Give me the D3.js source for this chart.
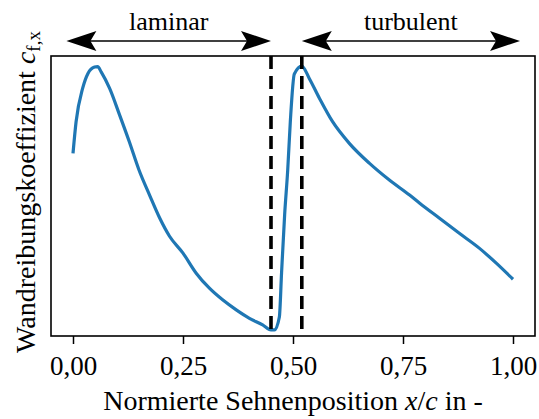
<!DOCTYPE html>
<html>
<head>
<meta charset="utf-8">
<script src="https://cdn.jsdelivr.net/npm/d3@7"></script>
</head>
<body style="margin:0">
<div id="chart"></div>
<script>
// chord position x/c (normalised) and wall friction coefficient (normalised, no ticks on y)
const xPos = [0.0, 0.007, 0.022, 0.034, 0.049, 0.056, 0.064, 0.083, 0.106, 0.128, 0.150, 0.174, 0.197, 0.219,
  0.250, 0.280, 0.310, 0.340, 0.371, 0.401, 0.431, 0.450, 0.458, 0.469, 0.474, 0.481, 0.488, 0.494, 0.503,
  0.520, 0.537, 0.560, 0.590, 0.628, 0.674, 0.719, 0.765, 0.788, 0.833, 0.878, 0.924, 0.962, 1.0]
const cf = [0.669, 0.789, 0.916, 0.972, 0.996, 0.998, 0.978, 0.916, 0.814, 0.713, 0.606, 0.511, 0.424, 0.356,
  0.291, 0.215, 0.158, 0.114, 0.076, 0.044, 0.019, 0.0, 0.0, 0.049, 0.216, 0.436, 0.606, 0.792, 0.970,
  1.0, 0.953, 0.878, 0.789, 0.707, 0.631, 0.568, 0.511, 0.480, 0.423, 0.366, 0.309, 0.253, 0.192]

const xTicks = [0, 0.25, 0.5, 0.75, 1.0]
const transitions = [0.45, 0.52]   // dashed lines: end of laminar, start of turbulent
const regionNames = ["laminar", "turbulent"]
const regionFrom = [-0.015, 0.52]
const regionTo = [0.45, 1.016]

const width = 539, height = 419
const box = { left: 51, right: 535, top: 56, bottom: 336 }
const fam = "Liberation Serif"

const svg = d3.select("#chart").append("svg")
  .attr("width", width).attr("height", height)
  .attr("font-family", fam)

const x = d3.scaleLinear().domain([-0.05, 1.05]).range([box.left, box.right])
const y = d3.scaleLinear().domain([-0.023, 1.038]).range([box.bottom, box.top])

// curve
const line = d3.line()
  .x((d, i) => x(xPos[i])).y(d => y(d))
  .curve(d3.curveMonotoneX)
svg.append("path")
  .datum(cf)
  .attr("d", line)
  .attr("fill", "none")
  .attr("stroke", "#1f77b4")
  .attr("stroke-width", 3.2)
  .attr("stroke-linejoin", "round")

// transition markers
svg.selectAll(".trans")
  .data(transitions)
  .enter().append("line")
  .attr("class", "trans")
  .attr("x1", d => x(d)).attr("x2", d => x(d))
  .attr("y1", box.top).attr("y2", box.bottom)
  .attr("stroke", "#000")
  .attr("stroke-width", 3.6)
  .attr("stroke-dasharray", "13,7")

// frame
svg.append("rect")
  .attr("x", box.left).attr("y", box.top)
  .attr("width", box.right - box.left).attr("height", box.bottom - box.top)
  .attr("fill", "none").attr("stroke", "#000").attr("stroke-width", 1.6)

// x axis: ticks only at the bottom, comma as decimal separator
const xAxis = d3.axisBottom(x)
  .tickValues(xTicks)
  .tickSize(8)
  .tickPadding(12)
  .tickFormat(d => d3.format(".2f")(d).replace(".", ","))
const gx = svg.append("g")
  .attr("transform", `translate(0,${box.bottom})`)
  .call(xAxis)
  .attr("font-family", fam)
  .attr("font-size", 27)
gx.select(".domain").remove()
gx.selectAll(".tick line").attr("stroke", "#000").attr("stroke-width", 1.5)
gx.selectAll(".tick text")
  .attr("fill", "#000")
  .style("font-family", `"${fam}"`)

// axis labels
const xl = svg.append("text")
  .attr("x", (box.left + box.right) / 2).attr("y", 410)
  .attr("text-anchor", "middle")
  .attr("font-size", 28)
  .style("font-family", `"${fam}"`)
xl.append("tspan").text("Normierte Sehnenposition ")
xl.append("tspan").attr("font-style", "italic").text("x")
xl.append("tspan").text("/")
xl.append("tspan").attr("font-style", "italic").text("c")
xl.append("tspan").text(" in -")

const yl = svg.append("text")
  .attr("transform", `translate(35,${(box.top + box.bottom) / 2 - 4}) rotate(-90)`)
  .attr("text-anchor", "middle")
  .attr("font-size", 28)
  .style("font-family", `"${fam}"`)
yl.append("tspan").text("Wandreibungskoeffizient ")
yl.append("tspan").attr("font-style", "italic").text("c")
yl.append("tspan").attr("font-size", 19).attr("dy", 5).text("f,x")

// region arrows
const arrowY = 41
function head(tipX, dir) {
  // notched arrow head, tip at tipX, pointing left (dir -1) or right (dir +1)
  const p = [[0, 0], [-30, -10], [-24, 0], [-30, 10]]
  return "M" + p.map(q => [tipX + dir * q[0], arrowY + q[1]]).join("L") + "Z"
}
regionNames.forEach((name, i) => {
  const x0 = x(regionFrom[i]), x1 = x(regionTo[i])
  svg.append("line")
    .attr("x1", x0 + 20).attr("x2", x1 - 20)
    .attr("y1", arrowY).attr("y2", arrowY)
    .attr("stroke", "#000").attr("stroke-width", 1.5)
  svg.append("path").attr("d", head(x0, -1)).attr("fill", "#000")
  svg.append("path").attr("d", head(x1, 1)).attr("fill", "#000")
  svg.append("text")
    .attr("x", (x0 + x1) / 2).attr("y", 30)
    .attr("text-anchor", "middle")
    .attr("font-size", 26)
    .style("font-family", `"${fam}"`)
    .text(name)
})
</script>
</body>
</html>
